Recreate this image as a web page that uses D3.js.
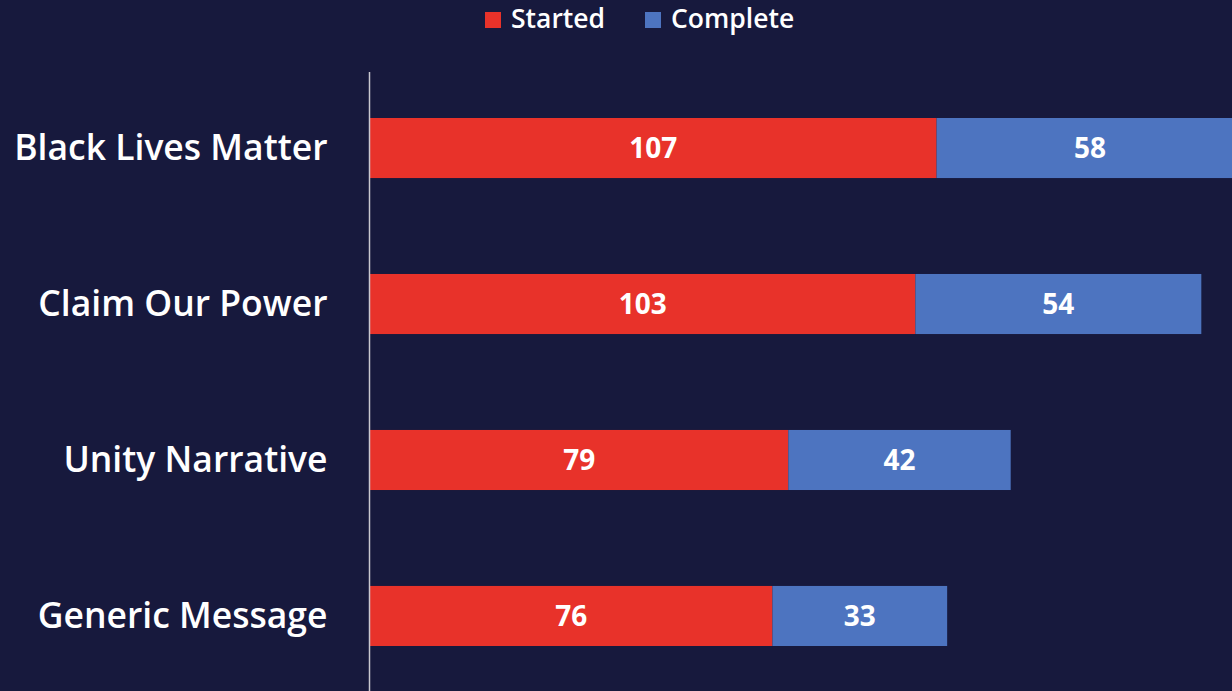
<!DOCTYPE html>
<html>
<head>
<meta charset="utf-8">
<script src="https://cdn.jsdelivr.net/npm/d3@7"></script>
<style>
  html, body { margin: 0; padding: 0; background: #17193d; }
  svg { display: block; }
</style>
</head>
<body>
<svg id="chart" width="1232" height="691"></svg>
<script>
// data
const categories = ["Black Lives Matter", "Claim Our Power", "Unity Narrative", "Generic Message"];
const started = [107, 103, 79, 76];
const complete = [58, 54, 42, 33];
const seriesNames = ["Started", "Complete"];
const seriesColors = ["#e8322a", "#4d74c0"];

let width = 1232,
    height = 691,
    marginLeft = 370,
    barTop = 118,
    barBottom = 646;

let svg = d3.select("#chart");

let rows = categories.map((c, i) => ({cat: c, started: started[i], complete: complete[i]}));
let stack = d3.stack().keys(["started", "complete"])(rows);

let xScale = d3.scaleLinear()
    .domain([0, 200])
    .range([marginLeft, marginLeft + 200 * 5.295]);

let yScale = d3.scaleBand()
    .domain(categories)
    .range([barTop, barBottom])
    .paddingInner(0.615)
    .paddingOuter(0);

// bars
let groups = svg.append("g").attr("id", "bars")
    .selectAll("g").data(stack).enter().append("g")
    .attr("fill", (d, i) => seriesColors[i]);

groups.selectAll("rect").data(d => d).enter().append("rect")
    .attr("x", d => xScale(d[0]))
    .attr("y", d => yScale(d.data.cat))
    .attr("width", d => xScale(d[1]) - xScale(d[0]))
    .attr("height", yScale.bandwidth());

groups.selectAll("text").data(d => d).enter().append("text")
    .attr("x", d => (xScale(d[0]) + xScale(d[1])) / 2)
    .attr("y", d => yScale(d.data.cat) + yScale.bandwidth() / 2)
    .attr("dy", "0.36em")
    .attr("text-anchor", "middle")
    .attr("fill", "#ffffff")
    .style("font-family", "'Open Sans', sans-serif")
    .style("font-weight", "bold")
    .style("font-size", "28px")
    .text(d => d[1] - d[0]);

// y axis: line only, labels to the left
let yAxis = d3.axisLeft(yScale).tickSize(0).tickPadding(42);
let y = svg.append("g").attr("id", "yAxis")
    .attr("transform", "translate(" + [marginLeft - 0.5, 0] + ")")
    .call(yAxis);
y.select(".domain").attr("stroke", "#c8c8d0").attr("stroke-width", 1.5)
    .attr("d", "M0," + 72 + "V" + height);
y.selectAll("text")
    .attr("fill", "#ffffff")
    .attr("dy", "0.34em")
    .style("font-family", "'Open Sans', sans-serif")
    .style("font-weight", "600")
    .style("font-size", "35.5px");

// legend
let legendX = [485, 645];
let legend = svg.append("g").attr("id", "legend")
    .selectAll("g").data(seriesNames).enter().append("g")
    .attr("transform", (d, i) => "translate(" + [legendX[i], 0] + ")");
legend.append("rect")
    .attr("x", 0).attr("y", 12)
    .attr("width", 16).attr("height", 16)
    .attr("fill", (d, i) => seriesColors[i]);
legend.append("text")
    .attr("x", 26).attr("y", 28)
    .attr("fill", "#ffffff")
    .style("font-family", "'Open Sans', sans-serif")
    .style("font-weight", "600")
    .style("font-size", "26.5px")
    .text(d => d);
</script>
</body>
</html>
